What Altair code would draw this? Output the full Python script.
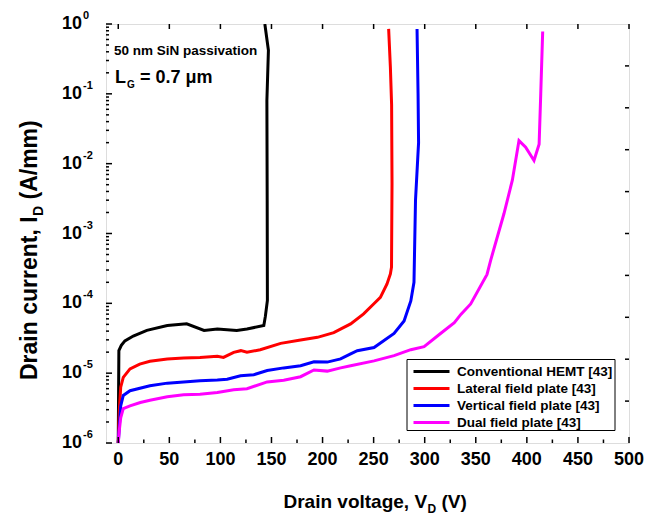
import altair as alt
import pandas as pd

FONT = "Liberation Sans"

series_names = ["Conventional HEMT [43]", "Lateral field plate [43]",
                "Vertical field plate [43]", "Dual field plate [43]"]
series_colors = ["#000000", "#ff0000", "#0000ff", "#ff00ff"]

conv_v = [0, 0.6, 3, 6.5, 14.7, 28, 48, 67, 84, 97, 116, 126, 142.5, 144, 146, 145.8, 145.5, 147, 143.5]
conv_i = [1e-6, 2.1e-5, 2.5e-5, 2.9e-5, 3.4e-5, 4.1e-5, 4.8e-5, 5.1e-5, 4.1e-5, 4.3e-5, 4.1e-5, 4.3e-5,
          4.8e-5, 6.5e-5, 1.1e-4, 3e-3, 0.08, 0.42, 1.0]

lat_v = [0, 1, 2.4, 4.9, 11.5, 21, 31, 48, 64, 80, 97, 103, 113, 120, 126, 139, 159, 178.5, 195, 211,
         218, 227.5, 240.2, 250, 256.6, 263.1, 266.4, 267.5, 268, 267.6, 266.4, 264.7]
lat_i = [1e-6, 2.9e-6, 6.3e-6, 8.7e-6, 1.15e-5, 1.35e-5, 1.48e-5, 1.6e-5, 1.65e-5, 1.68e-5, 1.74e-5, 1.68e-5,
         1.99e-5, 2.1e-5, 1.99e-5, 2.17e-5, 2.67e-5, 2.98e-5, 3.26e-5, 3.8e-5, 4.3e-5, 5.07e-5, 7.05e-5,
         9.8e-5, 1.22e-4, 1.9e-4, 2.64e-4, 3.3e-4, 5.2e-3, 0.07, 0.24, 0.85]

ver_v = [0, 1, 2.4, 4.9, 11.5, 31, 48, 64, 80, 97, 106.6, 119.7, 132.7, 145.8, 162, 178.5, 191.6, 204.6,
         217.7, 227.5, 234, 250.4, 270, 279.8, 286.4, 289.5, 291, 294, 293.5, 292.5]
ver_i = [1e-6, 1.7e-6, 3.4e-6, 4.8e-6, 5.6e-6, 6.6e-6, 7.2e-6, 7.5e-6, 7.8e-6, 8.0e-6, 8.2e-6, 9.2e-6,
         9.5e-6, 1.09e-5, 1.19e-5, 1.28e-5, 1.46e-5, 1.44e-5, 1.6e-5, 1.89e-5, 2.1e-5, 2.33e-5, 3.7e-5,
         5.6e-5, 1.08e-4, 2e-4, 3e-3, 0.02, 0.1, 0.85]

dual_v = [0, 1, 2.4, 4.9, 11.5, 21.6, 31, 48, 64, 80, 97, 113, 126, 145.8, 162, 178.5, 191.6, 204.6,
          217.7, 227.5, 250.4, 270, 286.4, 299.4, 315.5, 329, 335.6, 345, 361, 364.5, 377.5, 385.8,
          392.3, 398.8, 407, 412, 413.6, 415.5]
dual_i = [1e-6, 1.5e-6, 2.3e-6, 3.1e-6, 3.4e-6, 3.8e-6, 4.1e-6, 4.6e-6, 4.9e-6, 5.0e-6, 5.3e-6, 5.8e-6,
          6.0e-6, 7.5e-6, 7.9e-6, 8.9e-6, 1.11e-5, 1.07e-5, 1.19e-5, 1.28e-5, 1.5e-5, 1.78e-5, 2.17e-5,
          2.4e-5, 3.7e-5, 5.3e-5, 7.0e-5, 9.8e-5, 2.6e-4, 4.1e-4, 1.9e-3, 5.8e-3, 0.0214, 0.0172,
          0.0111, 0.019, 0.1, 0.78]

x_labels = [0, 50, 100, 150, 200, 250, 300, 350, 400, 450, 500]
x_label_text = ["0", "50", "100", "150", "200", "250", "300", "350", "400", "450", "500"]
x_minor = [25, 75, 125, 175, 225, 275, 325, 375, 425, 475]
y_exps = [0, -1, -2, -3, -4, -5, -6]
y_exp_labels = ["0", "-1", "-2", "-3", "-4", "-5", "-6"]
y_minor_mult = [2, 3, 4, 5, 6, 7, 8, 9]
right_tick_exps = [-0.6, -1.2, -1.8, -2.4, -3.0, -3.6, -4.2, -4.8, -5.4]

rows = []
for name, vs, cs in zip(series_names, [conv_v, lat_v, ver_v, dual_v], [conv_i, lat_i, ver_i, dual_i]):
    for k, (v, c) in enumerate(zip(vs, cs)):
        rows.append({"series": name, "V": v, "I": c, "k": k})
df = pd.DataFrame(rows)

W, H = 523, 419
xscale = alt.Scale(domain=[-12, 500], nice=False, zero=False)
yscale = alt.Scale(type="log", domain=[1e-6, 1], nice=False)

# legend frame (drawn beneath the legend entries)
legend_box = alt.Chart(pd.DataFrame({"a": [0]})).mark_rect(
    fill="white", stroke="black", strokeWidth=1).encode(
    x=alt.value(301), x2=alt.value(509), y=alt.value(335.5), y2=alt.value(406.5))

lines = alt.Chart(df).mark_line(strokeWidth=3, clip=True).encode(
    x=alt.X("V:Q", scale=xscale, axis=None),
    y=alt.Y("I:Q", scale=yscale, axis=None),
    color=alt.Color("series:N", scale=alt.Scale(domain=series_names, range=series_colors),
                    legend=alt.Legend(title=None, orient="none", legendX=301, legendY=335,
                                      direction="vertical", symbolType="M-3,0H3", symbolSize=144,
                                      symbolStrokeWidth=3, symbolOffset=12, labelOffset=18,
                                      labelFont=FONT, labelFontSize=13.5, labelFontWeight="bold",
                                      labelColor="black", padding=5, rowPadding=3)),
    order="k:Q",
)

xmaj = pd.DataFrame({"V": x_labels, "t": x_label_text})
xmin = pd.DataFrame({"V": x_minor})
ymaj = pd.DataFrame({"I": [10.0 ** e for e in y_exps]})
ymin = pd.DataFrame({"I": [m * 10.0 ** e for e in y_exps[1:] for m in y_minor_mult]})
yright = pd.DataFrame({"I": [10.0 ** e for e in right_tick_exps]})

def xt(d, y0, y1):
    return alt.Chart(d).mark_rule(color="black", strokeWidth=1.5).encode(
        x=alt.X("V:Q", scale=xscale, axis=None), y=alt.value(y0), y2=alt.value(y1))

def yt(d, x0, x1):
    return alt.Chart(d).mark_rule(color="black", strokeWidth=1.5).encode(
        y=alt.Y("I:Q", scale=yscale, axis=None), x=alt.value(x0), x2=alt.value(x1))

ticks = [
    xt(xmaj, H, H - 6), xt(xmin, H, H - 3.5), xt(xmaj, 0, 5),
    yt(ymaj, 0, 6), yt(ymin, 0, 3), yt(yright, W, W - 4),
]

xlab = alt.Chart(xmaj).mark_text(align="center", baseline="middle", fontSize=18, fontWeight="bold",
                                 font=FONT, color="black").encode(
    x=alt.X("V:Q", scale=xscale, axis=None), y=alt.value(H + 17), text="t:N")

ylab = pd.DataFrame({"I": [10.0 ** e for e in y_exps], "base": ["10"] * len(y_exps), "exp": y_exp_labels})
ybase = alt.Chart(ylab).mark_text(align="right", baseline="middle", fontSize=18, fontWeight="bold",
                                  font=FONT, color="black").encode(
    y=alt.Y("I:Q", scale=yscale, axis=None), x=alt.value(-24), text="base:N")
yexp = alt.Chart(ylab).mark_text(align="left", baseline="middle", fontSize=11, fontWeight="bold",
                                 font=FONT, color="black", dy=-8).encode(
    y=alt.Y("I:Q", scale=yscale, axis=None), x=alt.value(-23), text="exp:N")

def txt(s, x, y, size, align="left", angle=0):
    kw = dict(align=align, baseline="alphabetic", fontSize=size, fontWeight="bold", font=FONT, color="black")
    if angle:
        kw["angle"] = angle
    return alt.Chart(pd.DataFrame({"t": [s]})).mark_text(**kw).encode(
        text="t:N", x=alt.value(x), y=alt.value(y))

texts = [
    txt("50 nm SiN passivation", 8, 31, 13.5),
    txt("L", 9, 58.7, 18),
    txt("G", 21, 64, 10),
    txt("= 0.7 \u03bcm", 34, 58.7, 18),
    txt("Drain voltage, V", 177.5, 484, 19),
    txt("D", 321.5, 489, 12),
    txt("(V)", 335.5, 484, 19),
    txt("Drain current, I", -69, 356, 23, angle=270),
    txt("D", -63, 192, 14, angle=270),
    txt("(A/mm)", -69, 175.5, 23, angle=270),
]

chart = alt.layer(legend_box, lines, *ticks, xlab, ybase, yexp, *texts).properties(
    width=W, height=H,
    autosize=alt.AutoSizeParams(type="none"),
    padding={"left": 106, "top": 24, "right": 33, "bottom": 74},
).configure_view(stroke="black", strokeWidth=2).configure(background="white")

chart.save("out.html", embed_options={"renderer": "svg", "actions": False})
